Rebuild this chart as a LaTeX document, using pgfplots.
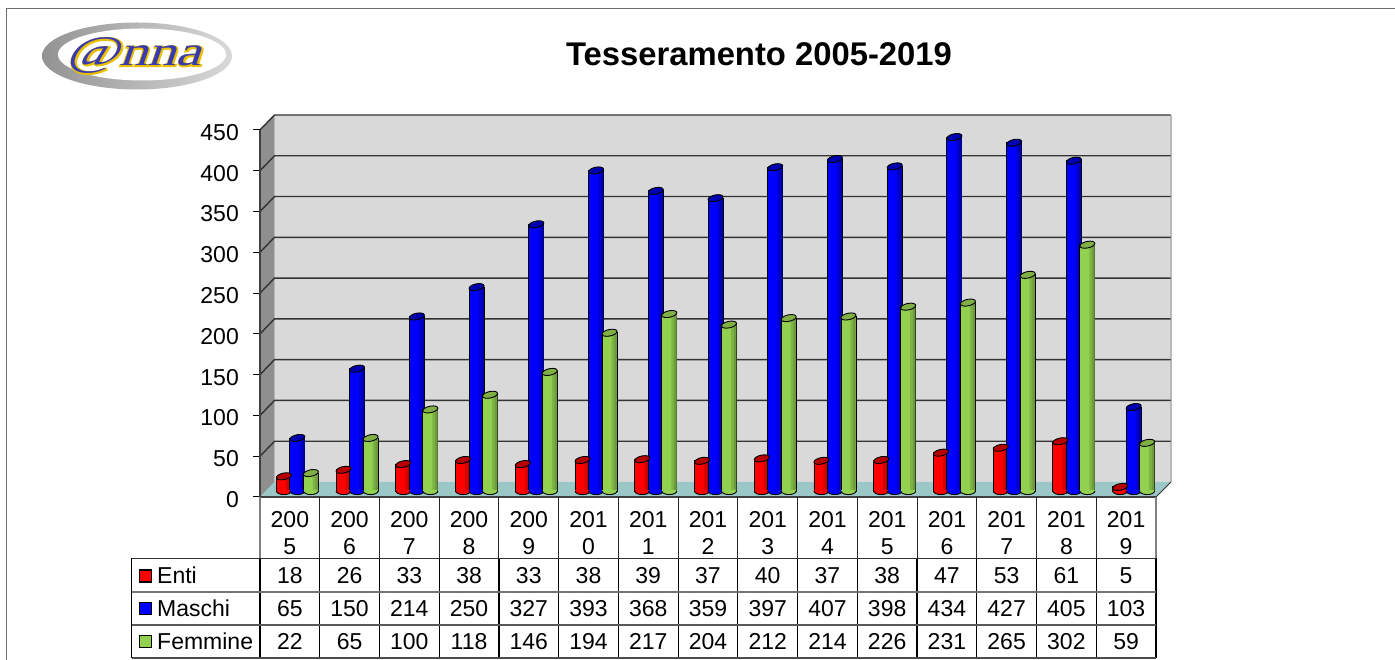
\documentclass[border=0pt]{standalone}
\usepackage{pgfplots}
\usepackage{pgfplotstable}
\usepackage{fontspec}
\pgfplotsset{compat=1.18}
\setmainfont{Liberation Sans}
\newfontfamily\logogold[FakeBold=5,FakeSlant=0.25]{Liberation Serif}
\newfontfamily\logoblue[FakeSlant=0.25]{Liberation Serif}
\definecolor{wallc}{HTML}{D9D9D9}
\definecolor{sidec}{HTML}{8F8F8F}
\definecolor{floorc}{HTML}{9CC7C7}
\definecolor{gridc}{HTML}{333333}
\definecolor{framec}{HTML}{6E6E6E}
\definecolor{ered}{HTML}{FF0000}
\definecolor{eblue}{HTML}{0000FF}
\definecolor{egreen}{HTML}{92D050}
\definecolor{dred}{HTML}{B80000}
\definecolor{dblue}{HTML}{0000B0}
\definecolor{dgreen}{HTML}{6E9C3C}
\definecolor{tgreen}{HTML}{7FAF45}
\definecolor{logogoldc}{HTML}{E8C000}
\definecolor{logobluec}{HTML}{3A3AB0}
\pgfdeclareplotmark{cyltop}{\pgfpathellipse{\pgfpointorigin}{\pgfpoint{7.5pt}{1.3pt}}{\pgfpoint{0pt}{3.3pt}}\pgfusepathqfillstroke}
\pgfdeclareplotmark{cylbase}{%
  \pgfpathrectangle{\pgfpoint{-7.1pt}{-0.1pt}}{\pgfpoint{14.2pt}{1.3pt}}\pgfusepathqfill
  \pgfpathmoveto{\pgfpoint{-7.5pt}{0pt}}%
  \pgfpathcurveto{\pgfpoint{-7.5pt}{-2pt}}{\pgfpoint{-4pt}{-3.6pt}}{\pgfpoint{0pt}{-3.6pt}}%
  \pgfpathcurveto{\pgfpoint{4pt}{-3.6pt}}{\pgfpoint{7.5pt}{-2pt}}{\pgfpoint{7.5pt}{0pt}}%
  \pgfusepathqfill
  \pgfpathmoveto{\pgfpoint{-7.5pt}{0pt}}%
  \pgfpathcurveto{\pgfpoint{-7.5pt}{-2pt}}{\pgfpoint{-4pt}{-3.6pt}}{\pgfpoint{0pt}{-3.6pt}}%
  \pgfpathcurveto{\pgfpoint{4pt}{-3.6pt}}{\pgfpoint{7.5pt}{-2pt}}{\pgfpoint{7.5pt}{0pt}}%
  \pgfusepathqstroke}
\pgfplotstableread{
x base enti maschi femmine
0 0 18 65 22
1 0 26 150 65
2 0 33 214 100
3 0 38 250 118
4 0 33 327 146
5 0 38 393 194
6 0 39 368 217
7 0 37 359 204
8 0 40 397 212
9 0 37 407 214
10 0 38 398 226
11 0 47 434 231
12 0 53 427 265
13 0 61 405 302
14 0 5 103 59
}\datatab
\pgfplotsset{mychart/.style={xmin=-0.5,xmax=14.5,ymin=0,ymax=450,width=896pt,height=367pt,
  scale only axis,clip=false,anchor=south west}}
% #1 column, #2 body, #3 dark side, #4 top colour, #5 shift, #6 shift of side band, #7 shift of edge band
\newcommand{\cyl}[7]{%
  \addplot[ybar,bar width=15pt,bar shift=#5,fill=#2,draw=black,line width=0.9pt] table[x=x,y=#1]{\datatab};
  \addplot[ybar,bar width=5pt,bar shift=#6,fill=#3!55!#2,draw=none] table[x=x,y=#1]{\datatab};
  \addplot[ybar,bar width=2.5pt,bar shift=#7,fill=#3,draw=none] table[x=x,y=#1]{\datatab};
  \addplot[only marks,mark=cylbase,mark options={fill=#2,draw=black,line width=0.9pt,xshift=#5}] table[x=x,y=base]{\datatab};
  \addplot[only marks,mark=cyltop,mark options={fill=#4,draw=black,line width=0.9pt,xshift=#5}] table[x=x,y=#1]{\datatab};
}
\begin{document}
\begin{tikzpicture}[x=1pt,y=1pt]
\useasboundingbox (0,0) rectangle (1395,660);
\fill[white] (0,0) rectangle (1395,660);
% outer frame
\draw[framec,line width=1.6pt] (6.5,0) -- (6.5,651.5) -- (1395,651.5);
% logo
\begin{scope}
  \shade[left color=gray!85,right color=gray!30] (137,604) ellipse [x radius=95,y radius=33.5];
  \fill[white] (142,605.5) ellipse [x radius=84,y radius=26];
  \node[inner sep=0pt,text=logogoldc,font=\logogold\fontsize{42}{42}\selectfont,xscale=1.35] at (134,604) {@nna};
  \node[inner sep=0pt,text=logobluec,font=\logoblue\fontsize{42}{42}\selectfont,xscale=1.35] at (134,604) {@nna};
\end{scope}
% title
\node[inner sep=0pt,font=\bfseries\fontsize{32.8}{36}\selectfont] at (759,606) {Tesseramento 2005-2019};
% back wall
\begin{axis}[mychart,at={(274.5pt,178pt)},axis lines=none,
  axis background/.style={fill=wallc},
  ytick={0,50,...,450},xtick=\empty]
\end{axis}
% gridlines, side wall and floor
\fill[sidec] (260,163) -- (274.5,178) -- (274.5,545) -- (260,530) -- cycle;
\draw[gray!50,line width=1pt] (260,530) -- (274.5,545);
\draw[gray!55,line width=1.5pt] (1171,178) -- (1171,545);
\foreach \v in {50,100,...,450}{
  \pgfmathsetmacro{\yy}{163+\v*0.81556}
  \draw[gridc,line width=1.4pt] (260,\yy) -- ++(14.5,15) -- ++(896,0);
}
\fill[floorc] (260,163) -- (1156,163) -- (1171,178) -- (274.5,178) -- cycle;
\draw[black!80,line width=1pt] (1156,163) -- (1171,178);
% cylinders
\begin{axis}[mychart,at={(267.5pt,169pt)},hide axis]
  \cyl{enti}{ered}{dred}{dred}{-13.5pt}{-9pt}{-7.5pt}
  \cyl{maschi}{eblue}{dblue}{dblue}{0pt}{4.5pt}{6pt}
  \cyl{femmine}{egreen}{dgreen}{tgreen}{13.5pt}{18pt}{19.5pt}
\end{axis}
% front axis with ticks
\begin{axis}[mychart,at={(260pt,163pt)},
  axis x line=bottom,axis y line=left,
  axis line style={-,line width=1.2pt,black!75},
  ytick={0,50,...,450},
  xtick={0,...,14},
  xticklabels={{200\\5},{200\\6},{200\\7},{200\\8},{200\\9},{201\\0},{201\\1},{201\\2},{201\\3},{201\\4},{201\\5},{201\\6},{201\\7},{201\\8},{201\\9}},
  tick align=outside,
  major tick length=7pt,
  x tick style={draw=none},
  y tick style={line width=1pt,black},
  /pgf/number format/assume math mode=true,
  tick label style={font=\fontsize{23}{27}\selectfont,inner sep=0pt},
  xticklabel style={align=center,yshift=-7pt},
  yticklabel style={xshift=-14pt,yshift=-2.5pt},
]
\end{axis}
% data table
\foreach \i in {1,...,14}{
  \pgfmathsetmacro{\xx}{260+\i*59.73}
  \draw[black!85,line width=1pt] (\xx,163) -- (\xx,101.5);
  \draw[black,line width=1.2pt] (\xx,101.5) -- (\xx,2);
}
\draw[gray,line width=1.4pt] (260,163) -- (260,101.5);
\draw[gray,line width=1.4pt] (1156,163) -- (1156,101.5);
\draw[black,line width=1.4pt] (260,101.5) -- (260,2);
\draw[black,line width=1.4pt] (1156,101.5) -- (1156,2);
\draw[black!80,line width=1.2pt] (131.5,101.5) -- (1156,101.5);
\draw[black!55,line width=1.4pt] (131.5,68) -- (1156,68);
\draw[black!65,line width=1.2pt] (131.5,35) -- (1156,35);
\draw[black!70,line width=1.2pt] (131.5,2) -- (1156,2);
\draw[line width=1.2pt] (131.5,101.5) -- (131.5,2);
\foreach \row/\yb/\vals/\col/\nm in {
  0/76/{18,26,33,38,33,38,39,37,40,37,38,47,53,61,5}/ered/Enti,
  1/43.5/{65,150,214,250,327,393,368,359,397,407,398,434,427,405,103}/eblue/Maschi,
  2/10.5/{22,65,100,118,146,194,217,204,212,214,226,231,265,302,59}/egreen/Femmine}{
  \foreach \v [count=\k from 0] in \vals {
    \pgfmathsetmacro{\xc}{260+(\k+0.5)*59.73}
    \node[anchor=base,inner sep=0pt,font=\fontsize{23}{27}\selectfont] at (\xc,\yb) {\v};
  }
  \draw[black,line width=1.5pt,fill=\col] (139.5,\yb+2) rectangle (151.5,\yb+14);
  \node[anchor=base west,inner sep=0pt,font=\fontsize{23}{27}\selectfont] at (157,\yb) {\nm};
}
\end{tikzpicture}
\end{document}
